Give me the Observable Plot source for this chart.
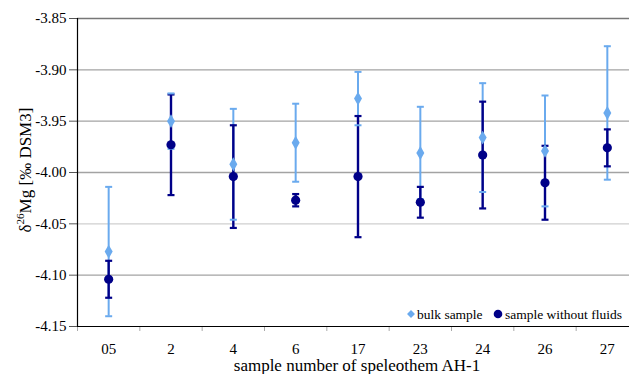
<!DOCTYPE html>
<html><head><meta charset="utf-8">
<script src="https://cdn.jsdelivr.net/npm/d3@7"></script>
<script src="https://cdn.jsdelivr.net/npm/@observablehq/plot@0.6"></script>
<style>
html,body{margin:0;padding:0;background:#fff;overflow:hidden;}
#chart{position:relative;width:629px;height:374px;overflow:hidden;}
#chart svg, #chart svg text, #chart svg g, #chart svg tspan { font-family: "Liberation Serif", "Times New Roman", serif !important; }
</style></head>
<body><div id="chart"></div>
<script>
const categories = ["05","2","4","6","17","23","24","26","27"];
const bulkMean  = [-4.077,-3.950,-3.992,-3.971,-3.928,-3.981,-3.966,-3.979,-3.942];
const bulkErr   = [0.063, 0.027, 0.054, 0.038, 0.026, 0.045, 0.053, 0.054, 0.065];
const fluidMean = [-4.104,-3.973,-4.004,-4.027,-4.004,-4.029,-3.983,-4.010,-3.976];
const fluidErr  = [0.018, 0.049, 0.050, 0.006, 0.059, 0.015, 0.052, 0.036, 0.018];
const yTicks = [-3.85,-3.90,-3.95,-4.00,-4.05,-4.10,-4.15];
const legendLabels = ["bulk sample","sample without fluids"];

const lightBlue = "#6aaaee";
const navy = "#000088";
const serif = "Liberation Serif, Times New Roman, serif";

const bulk = categories.map((c,i)=>({i:i+0.5, c, y:bulkMean[i], lo:bulkMean[i]-bulkErr[i], hi:bulkMean[i]+bulkErr[i]}));
const fluid = categories.map((c,i)=>({i:i+0.5, c, y:fluidMean[i], lo:fluidMean[i]-fluidErr[i], hi:fluidMean[i]+fluidErr[i]}));
const boundaries = d3.range(categories.length+1);
const centers = categories.map((c,i)=>i+0.5);

const cap = {draw(ctx, size){ const w = Math.sqrt(size/Math.PI); ctx.moveTo(-w,0); ctx.lineTo(w,0); }};

const plot = Plot.plot({
  width: 629, height: 374,
  marginLeft: 77, marginTop: 18, marginBottom: 48, marginRight: 0,
  style: {fontSize: "15px", fontFamily: serif, color: "#000", background: "#fff"},
  x: {type: "linear", domain: [0, categories.length], range: [77, 638], axis: null},
  y: {domain: [-4.15, -3.85], ticks: yTicks, axis: null},
  marks: [
    Plot.ruleY(yTicks.slice(1,-1), {stroke: d => Math.abs(d + 4.05) < 1e-9 ? "#cfcfcf" : "#a3a3a3", strokeWidth: 1.3}),
    Plot.ruleY([-3.85], {stroke: "#777", strokeWidth: 1.3}),
    Plot.axisY({ticks: yTicks, tickSize: 8, tickPadding: 3, tickFormat: d => d.toFixed(2), label: null, fontSize: 15, fontFamily: serif, stroke: "#555"}),
    Plot.ruleX(boundaries, {x: d => d, y1: -4.15, y2: -4.15, insetBottom: -5, stroke: "#aaa"}),
    Plot.axisX({ticks: centers, tickSize: 0, tickPadding: 17, tickFormat: (d) => categories[Math.round(d-0.5)], label: null, fontSize: 15, fontFamily: serif}),
    Plot.ruleX([0], {stroke: "#000", strokeWidth: 1.2}),
    Plot.ruleY([-4.15], {stroke: "#000", strokeWidth: 1.2}),
    Plot.ruleX(bulk, {x: "i", y1: "lo", y2: "hi", stroke: lightBlue, strokeWidth: 2}),
    Plot.ruleX(fluid, {x: "i", y1: "lo", y2: "hi", stroke: navy, strokeWidth: 2.4}),
    Plot.dot(fluid, {x: "i", y: "lo", symbol: cap, r: 3.5, stroke: navy, strokeWidth: 2.2, fill: "none"}),
    Plot.dot(fluid, {x: "i", y: "hi", symbol: cap, r: 3.5, stroke: navy, strokeWidth: 2.2, fill: "none"}),
    Plot.dot(bulk, {x: "i", y: "lo", symbol: cap, r: 3.5, stroke: lightBlue, strokeWidth: 2, fill: "none"}),
    Plot.dot(bulk, {x: "i", y: "hi", symbol: cap, r: 3.5, stroke: lightBlue, strokeWidth: 2, fill: "none"}),
    Plot.dot(bulk, {x: "i", y: "y", symbol: "diamond", r: 4.2, fill: lightBlue, stroke: "none"}),
    Plot.dot(fluid, {x: "i", y: "y", symbol: "circle", r: 4.6, fill: navy, stroke: "none"})
  ]
});

const svg = d3.select(plot);
// x axis label
svg.append("text").attr("x", 357).attr("y", 371).attr("text-anchor", "middle")
  .attr("font-size", 17).attr("fill", "#000")
  .text("sample number of speleothem AH-1");
// y axis label
const yl = svg.append("text").attr("transform", "translate(31,170) rotate(-90)").attr("text-anchor", "middle")
  .attr("font-size", 17).attr("fill", "#000");
yl.append("tspan").text("δ");
yl.append("tspan").attr("font-size", 11).attr("dy", -7).text("26");
yl.append("tspan").attr("dy", 7).text("Mg [‰ DSM3]");
// legend
const lg = svg.append("g").attr("font-size", 13.5).attr("fill", "#000").attr("text-anchor", "start");
lg.append("path").attr("d", d3.symbol(d3.symbolDiamond2, 40)()).attr("transform", "translate(411,314)").attr("fill", lightBlue);
lg.append("text").attr("x", 417).attr("y", 318.5).text(legendLabels[0]);
lg.append("circle").attr("cx", 498).attr("cy", 314).attr("r", 4.3).attr("fill", navy);
lg.append("text").attr("x", 505).attr("y", 318.5).text(legendLabels[1]);

document.getElementById("chart").appendChild(plot);
</script></body></html>
